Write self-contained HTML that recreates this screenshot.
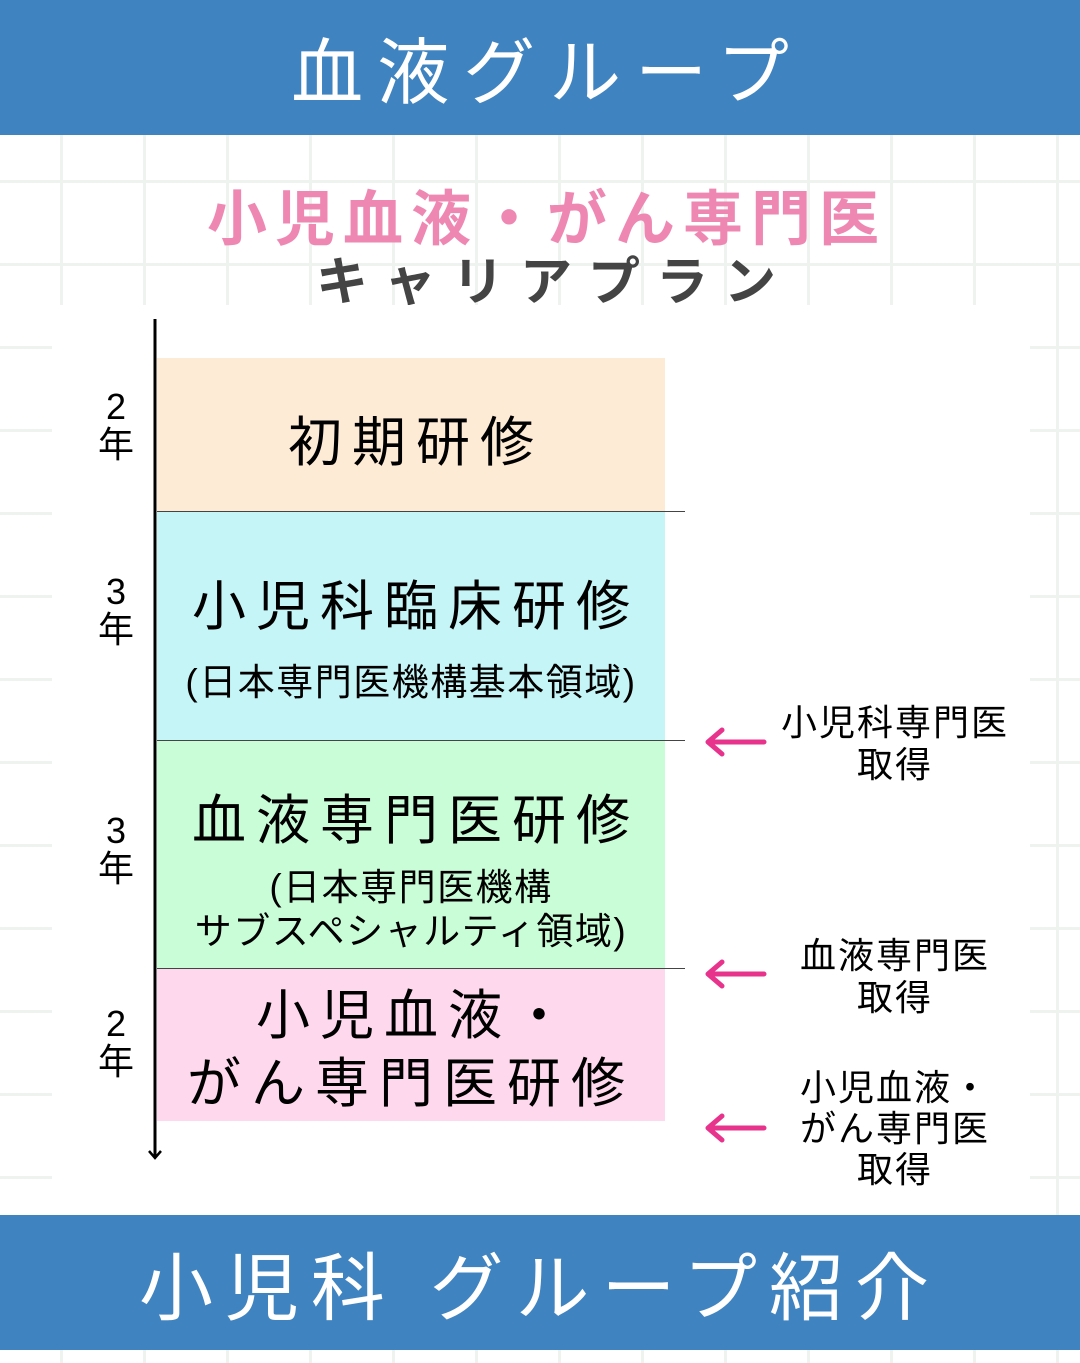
<!DOCTYPE html>
<html><head><meta charset="utf-8"><style>
*{margin:0;padding:0;box-sizing:border-box}
body{width:1080px;height:1350px;position:relative;overflow:hidden;background:#fff;font-family:"Liberation Sans","Noto Sans CJK JP",sans-serif;
background-image:linear-gradient(90deg,transparent 60px,#eef3f0 60px,#eef3f0 63px,transparent 63px),linear-gradient(0deg,transparent 0,transparent 79px,#eef3f0 79px,#eef3f0 82px,transparent 82px);
background-size:83px 83px,83px 83px;background-position:0 0,0 13px}
.a{position:absolute}
.bar{left:0;width:1080px;background:#3f84c0;color:#fff;text-align:center;font-weight:400}
.c{text-align:center;white-space:nowrap}
.t{font-size:54px;letter-spacing:10px;text-indent:10px;line-height:70px}
.s{font-size:37px;letter-spacing:1.5px;line-height:46px}
.r{font-size:36px;letter-spacing:2px;line-height:42px}
</style></head><body>
<div class="a bar" style="top:0;height:135px;font-size:72px;line-height:148px;letter-spacing:14px;text-indent:14px">血液グループ</div>
<div class="a c" style="left:0;width:1080px;top:180px;font-size:60px;color:#ee88b3;font-weight:700;letter-spacing:8px;line-height:80px;text-indent:14px">小児血液・がん専門医</div>
<div class="a c" style="left:0;width:1080px;top:250px;font-size:52px;color:#444;font-weight:700;letter-spacing:16px;line-height:66px;height:55px;overflow:hidden;text-indent:28px">キャリアプラン</div>
<div class="a" style="left:52px;top:305px;width:978px;height:910px;background:#fff"></div>

<div class="a" style="left:157px;top:358px;width:508px;height:153px;background:#feebd6"></div>
<div class="a" style="left:157px;top:512px;width:508px;height:228px;background:#c5f5f6"></div>
<div class="a" style="left:157px;top:741px;width:508px;height:227px;background:#c9fdd8"></div>
<div class="a" style="left:157px;top:969px;width:508px;height:152px;background:#fed9ee"></div>
<div class="a" style="left:157px;top:511px;width:528px;height:1px;background:#444"></div>
<div class="a" style="left:157px;top:740px;width:528px;height:1px;background:#444"></div>
<div class="a" style="left:157px;top:968px;width:528px;height:1px;background:#444"></div>

<svg class="a" style="left:140px;top:315px" width="30" height="850"><line x1="15" y1="4" x2="15" y2="843" stroke="#000" stroke-width="3"/><polyline points="9,836 15,843 21,836" fill="none" stroke="#000" stroke-width="2.5"/></svg>

<div class="a c" style="left:95px;top:388px;width:42px;font-size:36px;line-height:38px">2<br>年</div>
<div class="a c" style="left:95px;top:573px;width:42px;font-size:36px;line-height:38px">3<br>年</div>
<div class="a c" style="left:95px;top:812px;width:42px;font-size:36px;line-height:38px">3<br>年</div>
<div class="a c" style="left:95px;top:1005px;width:42px;font-size:36px;line-height:38px">2<br>年</div>

<div class="a c t" style="left:157px;width:508px;top:408px">初期研修</div>
<div class="a c t" style="left:157px;width:508px;top:572px">小児科臨床研修</div>
<div class="a c s" style="left:157px;width:508px;top:660px">(日本専門医機構基本領域)</div>
<div class="a c t" style="left:157px;width:508px;top:786px">血液専門医研修</div>
<div class="a c s" style="left:157px;width:508px;top:866px;line-height:44px">(日本専門医機構<br>サブスペシャルティ領域)</div>
<div class="a c t" style="left:157px;width:508px;top:982px;line-height:68px">小児血液・<br>がん専門医研修</div>

<svg class="a" style="left:700px;top:720px" width="70" height="430">
<g fill="none" stroke="#e8338c" stroke-width="5" stroke-linecap="round" stroke-linejoin="round">
<path d="M8 22 H64 M22 10 L8 22 L22 34"/>
<path d="M8 254 H64 M22 242 L8 254 L22 266"/>
<path d="M8 408 H64 M22 396 L8 408 L22 420"/>
</g></svg>
<div class="a c r" style="left:775px;width:240px;top:702px">小児科専門医<br>取得</div>
<div class="a c r" style="left:775px;width:240px;top:935px">血液専門医<br>取得</div>
<div class="a c r" style="left:775px;width:240px;top:1067px;line-height:41px">小児血液・<br>がん専門医<br>取得</div>

<div class="a bar" style="top:1215px;height:135px;font-size:74px;line-height:148px;letter-spacing:12px">小児科 グループ紹介</div>
</body></html>
